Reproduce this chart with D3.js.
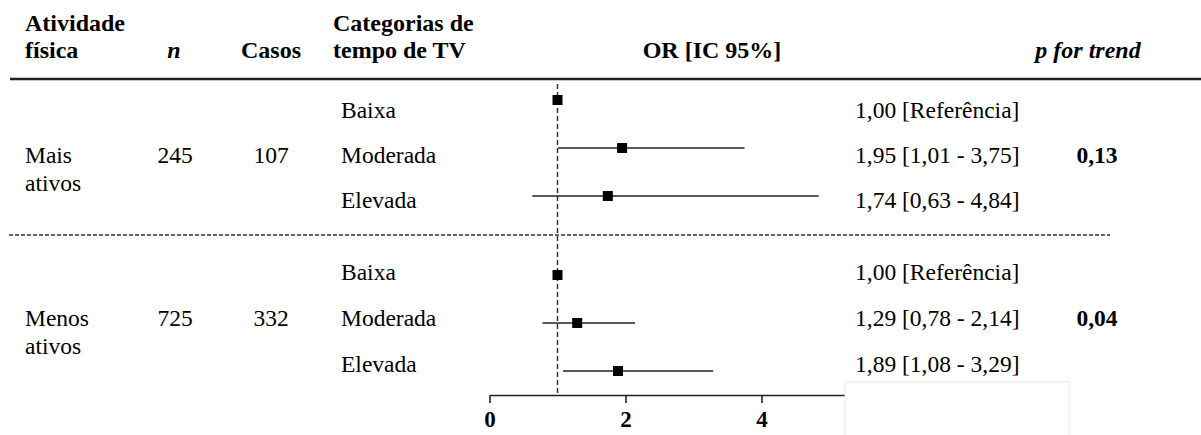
<!DOCTYPE html>
<html><head><meta charset="utf-8">
<script src="https://cdn.jsdelivr.net/npm/d3@7"></script>
<style>
html,body{margin:0;padding:0;background:#fff;}
svg{display:block;font-family:"Liberation Serif","Times New Roman",serif;}
</style></head>
<body><svg id="c" width="1201" height="435"></svg>
<script>
// ---- data ----
const groupLabels = [["Mais","ativos"],["Menos","ativos"]];
const groupN = [245, 725];
const groupCasos = [107, 332];
const pTrend = ["0,13", "0,04"];
const categories = ["Baixa", "Moderada", "Elevada"];
const orValues = [1.00, 1.95, 1.74, 1.00, 1.29, 1.89];
const ciLower = [null, 1.01, 0.63, null, 0.78, 1.08];
const ciUpper = [null, 3.75, 4.84, null, 2.14, 3.29];
const xTicks = [0, 2, 4, 6];

const fmt = v => v.toFixed(2).replace(".", ",");
const rows = orValues.map((v, i) => ({
  g: Math.floor(i / 3), c: i % 3, cat: categories[i % 3],
  or: v, lo: ciLower[i], hi: ciUpper[i],
  label: ciLower[i] == null ? fmt(v) + " [Referência]" : fmt(v) + " [" + fmt(ciLower[i]) + " - " + fmt(ciUpper[i]) + "]"
}));

const svg = d3.select("#c");
const x = d3.scaleLinear().domain([0, 6]).range([489.5, 897.5]);
const slot = r => r.g * 3.646 + r.c;
const y = d3.scaleLinear().domain([0, 1]).range([100, 148]);
const textY = r => (r.g === 0 ? 118 : 280) + r.c * (r.g === 0 ? 45 : 46);
const groupTextY = [163, 326];

const bodyFs = 23.5, headFs = 24;

// header
const head = svg.append("g").attr("font-weight", "bold").attr("font-size", headFs).attr("fill", "#000");
head.append("text").attr("x", 25).attr("y", 31).text("Atividade");
head.append("text").attr("x", 25).attr("y", 58).text("física");
head.append("text").attr("x", 174).attr("y", 58).attr("text-anchor", "middle").attr("font-style", "italic").text("n");
head.append("text").attr("x", 271).attr("y", 58).attr("text-anchor", "middle").text("Casos");
head.append("text").attr("x", 333).attr("y", 31).text("Categorias de");
head.append("text").attr("x", 333).attr("y", 58).text("tempo de TV");
head.append("text").attr("x", 712).attr("y", 58).attr("text-anchor", "middle").text("OR [IC 95%]");
head.append("text").attr("x", 1088).attr("y", 58).attr("text-anchor", "middle").attr("font-style", "italic").text("p for trend");

svg.append("line").attr("x1", 10).attr("x2", 1201).attr("y1", 79).attr("y2", 79)
  .attr("stroke", "#222").attr("stroke-width", 2.5);

// group separator
svg.append("line").attr("x1", 9).attr("x2", 1110).attr("y1", 235).attr("y2", 235)
  .attr("stroke", "#333").attr("stroke-width", 1.5).attr("stroke-dasharray", "4,2");

// reference line at OR = 1
svg.append("line").attr("x1", x(1)).attr("x2", x(1)).attr("y1", 84).attr("y2", 395)
  .attr("stroke", "#333").attr("stroke-width", 1.5).attr("stroke-dasharray", "5,3");

// group text
const gt = svg.append("g").attr("font-size", bodyFs).attr("fill", "#000");
groupLabels.forEach((lab, g) => {
  gt.append("text").attr("x", 25).attr("y", groupTextY[g]).text(lab[0]);
  gt.append("text").attr("x", 25).attr("y", groupTextY[g] + 28).text(lab[1]);
  gt.append("text").attr("x", 175).attr("y", groupTextY[g]).attr("text-anchor", "middle").text(groupN[g]);
  gt.append("text").attr("x", 271).attr("y", groupTextY[g]).attr("text-anchor", "middle").text(groupCasos[g]);
  gt.append("text").attr("x", 1097).attr("y", groupTextY[g]).attr("text-anchor", "middle").attr("font-weight", "bold").text(pTrend[g]);
});
gt.selectAll("text.cat").data(rows).join("text").attr("class", "cat")
  .attr("x", 341).attr("y", textY).text(d => d.cat);
gt.selectAll("text.val").data(rows).join("text").attr("class", "val")
  .attr("x", 855).attr("y", textY).text(d => d.label);

// CI lines
svg.selectAll("line.ci").data(rows.filter(r => r.lo != null)).join("line").attr("class", "ci")
  .attr("x1", d => x(d.lo)).attr("x2", d => x(d.hi))
  .attr("y1", d => y(slot(d))).attr("y2", d => y(slot(d)))
  .attr("stroke", "#222").attr("stroke-width", 1.6);
// squares
const sz = 10;
svg.selectAll("rect.pt").data(rows).join("rect").attr("class", "pt")
  .attr("x", d => x(d.or) - sz / 2).attr("y", d => y(slot(d)) - sz / 2)
  .attr("width", sz).attr("height", sz).attr("fill", "#000");

// axis
const axis = svg.append("g").attr("transform", "translate(0,395)")
  .call(d3.axisBottom(x).tickValues(xTicks).tickSize(8).tickSizeOuter(0).tickFormat(d3.format("d")));
axis.attr("font-family", null).attr("font-size", null);
axis.select(".domain").attr("stroke", "#222").attr("stroke-width", 1.6);
axis.selectAll(".tick line").attr("stroke", "#222").attr("stroke-width", 1.6);
axis.selectAll(".tick text").attr("font-size", 23)
  .attr("font-weight", "bold").attr("fill", "#000").attr("dy", "0.92em");

// white box covering the right end of the axis
svg.append("rect").attr("x", 845).attr("y", 382).attr("width", 224).attr("height", 60)
  .attr("fill", "#fff").attr("stroke", "#e8e8e8").attr("stroke-width", 1);
</script></body></html>
